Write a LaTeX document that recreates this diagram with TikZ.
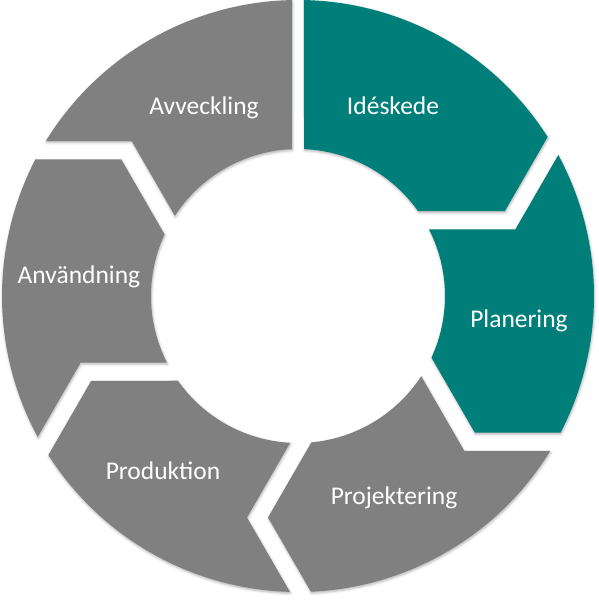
\documentclass[tikz,border=0pt]{standalone}
\usepackage{fontspec}
\setmainfont{Carlito}
\usetikzlibrary{shadows.blur}
\definecolor{tealseg}{RGB}{0,127,122}
\definecolor{grayseg}{RGB}{128,128,128}
\tikzset{
  segment/.style={fill=#1, draw=none,
    blur shadow={shadow xshift=0.6pt, shadow yshift=-1.5pt, shadow blur radius=2.5pt, shadow opacity=30}},
  label/.style={text=white, anchor=base, inner sep=0pt, font=\fontsize{25.5}{30}\selectfont}
}
\begin{document}
\begin{tikzpicture}[x=1pt,y=1pt]
\useasboundingbox (0,0) rectangle (599,600);
\coordinate (C) at (298,304);
\begin{scope}[shift={(298pt,304pt)}]
% Idéskede
\path[segment=tealseg] (88.84:296pt) arc[start angle=88.84, end angle=32.50, radius=296pt]
  -- (22.29:223.5pt) -- (35.21:147pt) arc[start angle=35.21, end angle=87.66, radius=147pt] -- cycle;
% Planering
\path[segment=tealseg] (28.44:296pt) arc[start angle=28.44, end angle=-27.50, radius=296pt]
  -- (-37.71:223.5pt) -- (-24.79:147pt) arc[start angle=-24.79, end angle=26.92, radius=147pt]
  -- (17.03:227.3pt) -- cycle;
% Projektering
\path[segment=grayseg] (-31.56:296pt) arc[start angle=-31.56, end angle=-87.50, radius=296pt]
  -- (-97.71:223.5pt) -- (-84.79:147pt) arc[start angle=-84.79, end angle=-33.08, radius=147pt]
  -- (-42.97:227.3pt) -- cycle;
% Produktion
\path[segment=grayseg] (-91.56:296pt) arc[start angle=-91.56, end angle=-147.50, radius=296pt]
  -- (-157.71:223.5pt) -- (-144.79:147pt) arc[start angle=-144.79, end angle=-93.08, radius=147pt]
  -- (-102.97:227.3pt) -- cycle;
% Användning
\path[segment=grayseg] (-151.56:296pt) arc[start angle=-151.56, end angle=-207.50, radius=296pt]
  -- (-217.71:223.5pt) -- (-204.79:147pt) arc[start angle=-204.79, end angle=-153.08, radius=147pt]
  -- (-162.97:227.3pt) -- cycle;
% Avveckling
\path[segment=grayseg] (148.44:296pt) arc[start angle=148.44, end angle=91.16, radius=296pt]
  -- (92.34:147pt) arc[start angle=92.34, end angle=146.92, radius=147pt]
  -- (137.03:227.3pt) -- cycle;
\end{scope}
\node[label] (ide) at (393,485) {Idéskede};
\node[label] (plan) at (519,272) {Planering};
\node[label] (proj) at (394,95) {Projektering};
\node[label] (prod) at (163,120) {Produktion};
\node[label] (anv) at (79,316) {Användning};
\node[label] (avv) at (204,485) {Avveckling};
\end{tikzpicture}
\end{document}
